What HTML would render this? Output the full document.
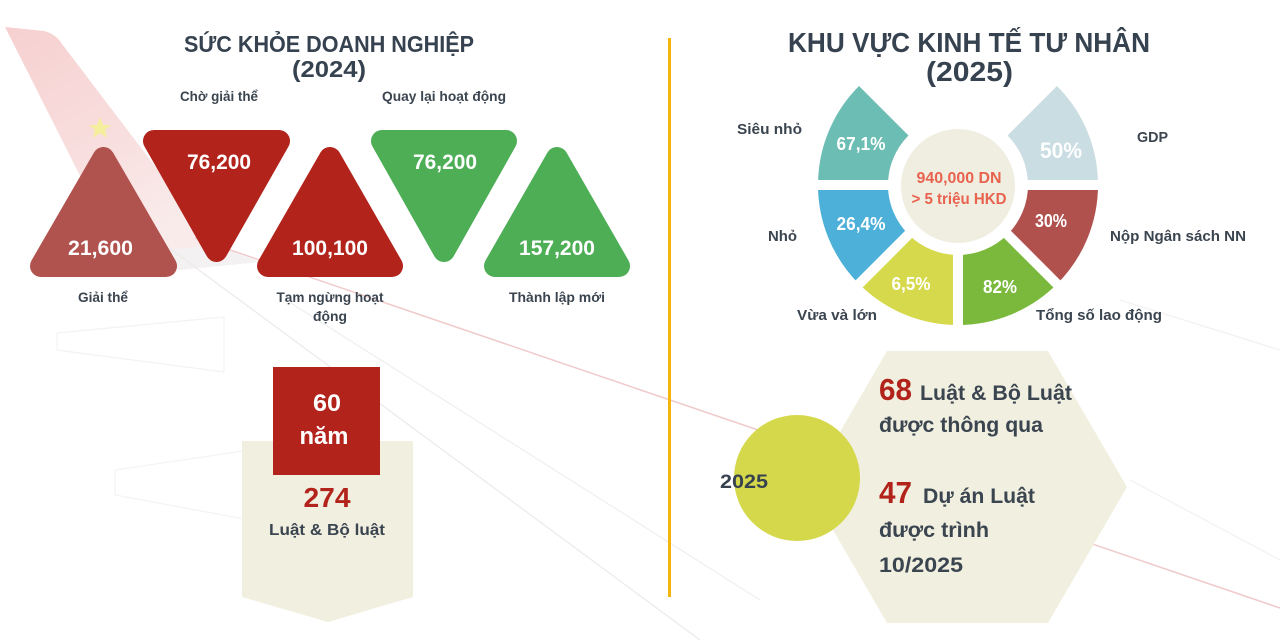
<!DOCTYPE html>
<html>
<head>
<meta charset="utf-8">
<style>
  html,body{margin:0;padding:0;background:#ffffff;}
  svg{display:block;}
  text{font-family:"Liberation Sans","DejaVu Sans",sans-serif;font-weight:bold;}
</style>
</head>
<body>
<svg width="1280" height="642" viewBox="0 0 1280 642" xmlns="http://www.w3.org/2000/svg">
  <defs>
    <linearGradient id="tail" x1="0" y1="0" x2="0.5" y2="1">
      <stop offset="0" stop-color="#f4c4c4"/>
      <stop offset="0.6" stop-color="#f7d6d6"/>
      <stop offset="1" stop-color="#f8e6e6"/>
    </linearGradient>
  </defs>
  <rect width="1280" height="642" fill="#ffffff"/>

  <!-- background airplane decoration -->
  <path d="M5,27 L44,31 Q56,34 62,44 L215,245 L120,255 Z" fill="url(#tail)" opacity="0.8"/>
  <path d="M120,255 L215,245 L260,262 L180,270 Z" fill="#f0eded" opacity="0.8"/>
  <polygon points="100,117 103,125 111,125 105,130 107,138 100,133 93,138 95,130 89,125 97,125" fill="#f5ee9c"/>
  <line x1="195" y1="238" x2="1280" y2="608" stroke="#f0caca" stroke-width="1.5"/>
  <line x1="165" y1="245" x2="700" y2="640" stroke="#eeeaea" stroke-width="1.3"/>
  <line x1="286" y1="300" x2="760" y2="600" stroke="#f1eeee" stroke-width="1.2"/>
  <polyline points="57,333 224,317 224,372 57,350 57,333" fill="none" stroke="#f3f3f3" stroke-width="1.3"/>
  <polyline points="115,470 250,450 250,520 115,495 115,470" fill="none" stroke="#f4f4f4" stroke-width="1.3"/>
  <line x1="1120" y1="300" x2="1280" y2="350" stroke="#f4f0f0" stroke-width="1.2"/>
  <line x1="1130" y1="480" x2="1280" y2="560" stroke="#f4f0f0" stroke-width="1.2"/>

  <!-- divider -->
  <rect x="668" y="38" width="3" height="559" fill="#f5b50a"/>

  <!-- LEFT TITLE -->
  <text x="184" y="52" font-size="23" fill="#36424f" textLength="290" lengthAdjust="spacingAndGlyphs">SỨC KHỎE DOANH NGHIỆP</text>
  <text x="292" y="77" font-size="23" fill="#36424f" textLength="74" lengthAdjust="spacingAndGlyphs">(2024)</text>

  <!-- triangles -->
  <g stroke-linejoin="round" stroke-width="22">
    <polygon points="41,266 103.5,158 166,266" fill="#b0524e" stroke="#b0524e"/>
    <polygon points="154,141 279,141 216.5,251" fill="#b2231b" stroke="#b2231b"/>
    <polygon points="268,266 330,158 392,266" fill="#b2231b" stroke="#b2231b"/>
    <polygon points="382,141 506,141 444,251" fill="#4dae56" stroke="#4dae56"/>
    <polygon points="495,266 557,158 619,266" fill="#4dae56" stroke="#4dae56"/>
  </g>
  <g fill="#ffffff" font-size="21" text-anchor="middle">
    <text x="100.5" y="255" textLength="65" lengthAdjust="spacingAndGlyphs">21,600</text>
    <text x="219" y="169" textLength="64" lengthAdjust="spacingAndGlyphs">76,200</text>
    <text x="330" y="255" textLength="76" lengthAdjust="spacingAndGlyphs">100,100</text>
    <text x="445" y="169" textLength="64" lengthAdjust="spacingAndGlyphs">76,200</text>
    <text x="557" y="255" textLength="76" lengthAdjust="spacingAndGlyphs">157,200</text>
  </g>
  <g fill="#3b4550" font-size="14" text-anchor="middle">
    <text x="219" y="101" textLength="78" lengthAdjust="spacingAndGlyphs">Chờ giải thể</text>
    <text x="444" y="101" textLength="124" lengthAdjust="spacingAndGlyphs">Quay lại hoạt động</text>
    <text x="103" y="302" textLength="50" lengthAdjust="spacingAndGlyphs">Giải thể</text>
    <text x="330" y="302" textLength="107" lengthAdjust="spacingAndGlyphs">Tạm ngừng hoạt</text>
    <text x="330" y="321" textLength="34" lengthAdjust="spacingAndGlyphs">động</text>
    <text x="557" y="302" textLength="96" lengthAdjust="spacingAndGlyphs">Thành lập mới</text>
  </g>

  <!-- bottom-left -->
  <path d="M242,441 H413 V597 L328,622 L242,597 Z" fill="#f1f0e0"/>
  <rect x="273" y="367" width="107" height="108" fill="#b2231b"/>
  <text x="327" y="411" font-size="24" fill="#ffffff" text-anchor="middle" textLength="28" lengthAdjust="spacingAndGlyphs">60</text>
  <text x="324" y="444" font-size="24" fill="#ffffff" text-anchor="middle" textLength="49" lengthAdjust="spacingAndGlyphs">năm</text>
  <text x="327" y="507" font-size="28" fill="#b2231b" text-anchor="middle" textLength="47" lengthAdjust="spacingAndGlyphs">274</text>
  <text x="327" y="535" font-size="16" fill="#3b4550" text-anchor="middle" textLength="116" lengthAdjust="spacingAndGlyphs">Luật &amp; Bộ luật</text>

  <!-- RIGHT TITLE -->
  <text x="788" y="52" font-size="28" fill="#36424f" textLength="362" lengthAdjust="spacingAndGlyphs">KHU VỰC KINH TẾ TƯ NHÂN</text>
  <text x="926" y="81" font-size="28" fill="#36424f" textLength="87" lengthAdjust="spacingAndGlyphs">(2025)</text>

  <!-- donut: center (958,185), R=140, r=70 -->
  <g>
    <path d="M859,86 A140,140 0 0 0 818,185 L888,185 A70,70 0 0 1 908.5,135.5 Z" fill="#6cbdb3"/>
    <path d="M818,185 A140,140 0 0 0 859,284 L908.5,234.5 A70,70 0 0 1 888,185 Z" fill="#4cb0d8"/>
    <path d="M859,284 A140,140 0 0 0 958,325 L958,255 A70,70 0 0 1 908.5,234.5 Z" fill="#d5d94b"/>
    <path d="M958,325 A140,140 0 0 0 1057,284 L1007.5,234.5 A70,70 0 0 1 958,255 Z" fill="#7ab93b"/>
    <path d="M1057,284 A140,140 0 0 0 1098,185 L1028,185 A70,70 0 0 1 1007.5,234.5 Z" fill="#b0514d"/>
    <path d="M1098,185 A140,140 0 0 0 1057,86 L1007.5,135.5 A70,70 0 0 1 1028,185 Z" fill="#c9dde3"/>
    <g stroke="#ffffff" stroke-width="10" stroke-linecap="butt">
      <line x1="896" y1="185" x2="810" y2="185"/>
      <line x1="1020" y1="185" x2="1106" y2="185"/>
      <line x1="915.6" y1="227.4" x2="853" y2="290"/>
      <line x1="1000.4" y1="227.4" x2="1063" y2="290"/>
      <line x1="958" y1="245" x2="958" y2="332"/>
    </g>
    <circle cx="958" cy="186" r="57" fill="#efeee0"/>
  </g>
  <g fill="#ffffff" font-size="18" text-anchor="middle">
    <text x="861" y="150" textLength="49" lengthAdjust="spacingAndGlyphs">67,1%</text>
    <text x="861" y="230" textLength="49" lengthAdjust="spacingAndGlyphs">26,4%</text>
    <text x="911" y="290" textLength="39" lengthAdjust="spacingAndGlyphs">6,5%</text>
    <text x="1000" y="293" textLength="34" lengthAdjust="spacingAndGlyphs">82%</text>
    <text x="1051" y="227" textLength="32" lengthAdjust="spacingAndGlyphs">30%</text>
    <text x="1061" y="158" font-size="22" textLength="42" lengthAdjust="spacingAndGlyphs">50%</text>
  </g>
  <g fill="#e9624f" font-size="16" text-anchor="middle">
    <text x="959" y="183" textLength="85" lengthAdjust="spacingAndGlyphs">940,000 DN</text>
    <text x="959" y="204" textLength="95" lengthAdjust="spacingAndGlyphs">&gt; 5 triệu HKD</text>
  </g>
  <g fill="#3b4550" font-size="15">
    <text x="737" y="134" textLength="65" lengthAdjust="spacingAndGlyphs">Siêu nhỏ</text>
    <text x="1137" y="142" textLength="31" lengthAdjust="spacingAndGlyphs">GDP</text>
    <text x="768" y="241" textLength="29" lengthAdjust="spacingAndGlyphs">Nhỏ</text>
    <text x="1110" y="241" textLength="136" lengthAdjust="spacingAndGlyphs">Nộp Ngân sách NN</text>
    <text x="797" y="320" textLength="80" lengthAdjust="spacingAndGlyphs">Vừa và lớn</text>
    <text x="1036" y="320" textLength="126" lengthAdjust="spacingAndGlyphs">Tổng số lao động</text>
  </g>

  <!-- bottom-right -->
  <polygon points="887,351 1048,351 1127,487 1048,623 887,623 808,487" fill="#f1f0e0"/>
  <circle cx="797" cy="478" r="63" fill="#d5d84a"/>
  <text x="720" y="488" font-size="19" fill="#36424f" textLength="48" lengthAdjust="spacingAndGlyphs">2025</text>

  <text x="879" y="400" font-size="31" fill="#b2231b" textLength="33" lengthAdjust="spacingAndGlyphs">68</text>
  <text x="920" y="400" font-size="21" fill="#3b4550" textLength="152" lengthAdjust="spacingAndGlyphs">Luật &amp; Bộ Luật</text>
  <text x="879" y="432" font-size="21" fill="#3b4550" textLength="164" lengthAdjust="spacingAndGlyphs">được thông qua</text>
  <text x="879" y="503" font-size="31" fill="#b2231b" textLength="33" lengthAdjust="spacingAndGlyphs">47</text>
  <text x="923" y="503" font-size="21" fill="#3b4550" textLength="112" lengthAdjust="spacingAndGlyphs">Dự án Luật</text>
  <text x="879" y="537" font-size="21" fill="#3b4550" textLength="110" lengthAdjust="spacingAndGlyphs">được trình</text>
  <text x="879" y="572" font-size="21" fill="#3b4550" textLength="84" lengthAdjust="spacingAndGlyphs">10/2025</text>
</svg>
</body>
</html>
